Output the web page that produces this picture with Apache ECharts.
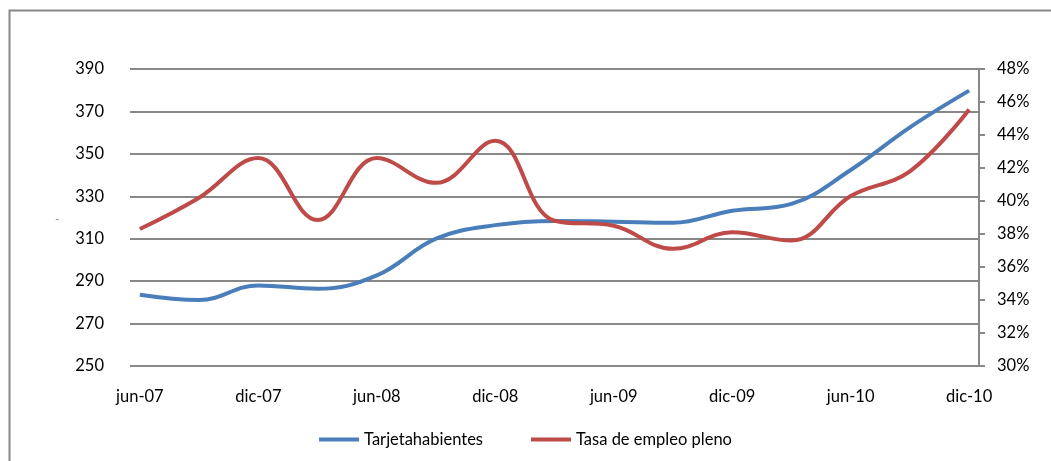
<!DOCTYPE html>
<html>
<head>
<meta charset="utf-8">
<script src="https://cdn.jsdelivr.net/npm/echarts@6/dist/echarts.min.js"></script>
<style>
  html, body { margin: 0; padding: 0; background: #fff; }
  #container { width: 1051px; height: 461px; }
</style>
</head>
<body>
<div id="container"></div>
<script>
// quarterly observations
const quarters = ['jun-07', 'sep-07', 'dic-07', 'mar-08', 'jun-08', 'sep-08', 'dic-08', 'mar-09',
  'jun-09', 'sep-09', 'dic-09', 'mar-10', 'jun-10', 'sep-10', 'dic-10'];
const tarjetahabientes = [283.6, 281.1, 288, 286.4, 292.7, 310, 316.4, 318.4,
  318, 317.5, 323.2, 326.4, 342.4, 362.5, 379.8];
const tasaEmpleo = [38.3, 40.2, 42.6, 38.85, 42.6, 41.1, 43.65, 38.8,
  38.5, 37.1, 38.1, 37.6, 40.3, 41.8, 45.55];

const leftTicks = { min: 250, max: 390, interval: 20 };
const rightTicks = { min: 30, max: 48, interval: 2 };

// monthly date axis, jun-07 .. dic-10
const monthNames = ['ene', 'feb', 'mar', 'abr', 'may', 'jun', 'jul', 'ago', 'sep', 'oct', 'nov', 'dic'];
const months = [];
for (let y = 7; y <= 10; y++) {
  for (let m = 0; m < 12; m++) {
    if (y === 7 && m < 5) continue;
    months.push(monthNames[m] + '-' + (y < 10 ? '0' + y : y));
  }
}

const font = 'Lato, "Open Sans", sans-serif';
const fs = 16.5;
const gridColor = '#888';

const chart = echarts.init(document.getElementById('container'));

chart.setOption({
  animation: false,
  textStyle: { fontFamily: font },
  grid: { left: 130, right: 72, top: 69, bottom: 95 },
  graphic: [
    {
      type: 'rect',
      shape: { x: 9.5, y: 10.5, width: 1100, height: 500 },
      style: { fill: 'none', stroke: '#888', lineWidth: 2 }
    },
    {
      type: 'text',
      left: 55, top: 213,
      style: { text: '-', fill: '#888', font: '12px ' + font }
    }
  ],
  legend: {
    bottom: 8,
    left: 'center',
    itemGap: 48,
    itemWidth: 40,
    itemHeight: 4,
    icon: 'rect',
    textStyle: { fontSize: fs, color: '#000', fontFamily: font },
    data: ['Tarjetahabientes', 'Tasa de empleo pleno']
  },
  xAxis: {
    type: 'category',
    data: months,
    boundaryGap: true,
    axisLine: { show: false },
    axisTick: { show: false },
    axisLabel: { interval: 5, color: '#000', fontSize: fs, margin: 22, fontFamily: font }
  },
  yAxis: [
    {
      type: 'value',
      min: leftTicks.min, max: leftTicks.max, interval: leftTicks.interval,
      axisLine: { show: false },
      axisTick: { show: false },
      axisLabel: { color: '#000', fontSize: fs, margin: 26, fontFamily: font },
      splitLine: { lineStyle: { color: gridColor, width: 2 } }
    },
    {
      type: 'value',
      min: rightTicks.min, max: rightTicks.max, interval: rightTicks.interval,
      position: 'right',
      axisLine: { show: true, lineStyle: { color: gridColor, width: 2 } },
      axisTick: { show: true, length: 6, lineStyle: { color: gridColor, width: 2 } },
      axisLabel: { color: '#000', fontSize: fs, margin: 18, fontFamily: font, formatter: '{value}%' },
      splitLine: { show: false }
    }
  ],
  series: [
    {
      name: 'Tarjetahabientes',
      type: 'line',
      yAxisIndex: 0,
      smooth: 0.4,
      showSymbol: false,
      symbol: 'none',
      lineStyle: { color: '#4a7ebb', width: 4 },
      itemStyle: { color: '#4a7ebb' },
      data: quarters.map((q, i) => [q, tarjetahabientes[i]])
    },
    {
      name: 'Tasa de empleo pleno',
      type: 'line',
      yAxisIndex: 1,
      smooth: 0.4,
      showSymbol: false,
      symbol: 'none',
      lineStyle: { color: '#be4b48', width: 4 },
      itemStyle: { color: '#be4b48' },
      data: quarters.map((q, i) => [q, tasaEmpleo[i]])
    }
  ]
});
</script>
</body>
</html>
